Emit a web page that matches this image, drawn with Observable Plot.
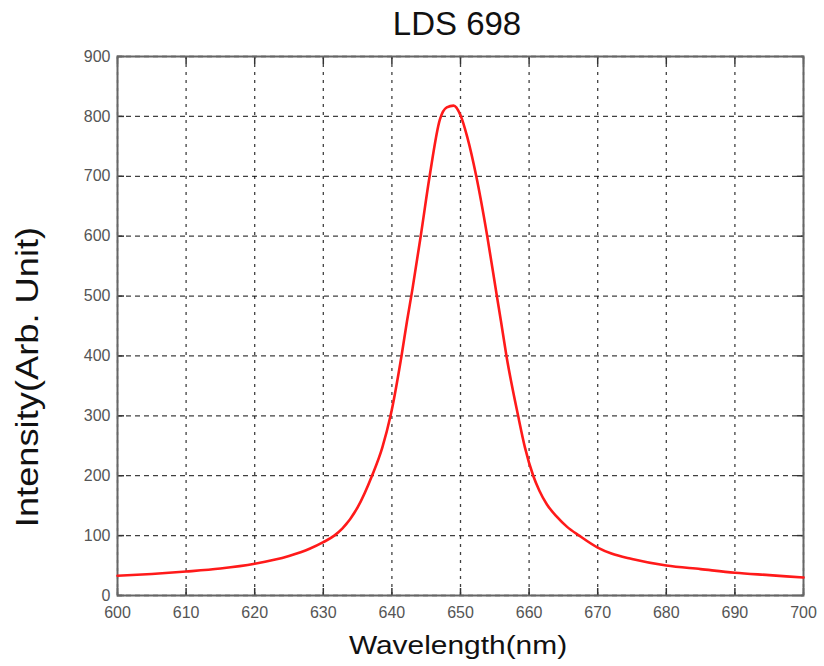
<!DOCTYPE html>
<html>
<head>
<meta charset="utf-8">
<script src="https://cdn.jsdelivr.net/npm/d3@7"></script>
<script src="https://cdn.jsdelivr.net/npm/@observablehq/plot@0.6"></script>
<style>
  html, body { margin: 0; padding: 0; background: #fff; }
  #wrap { position: relative; width: 824px; height: 666px; font-family: "Liberation Sans", Arial, sans-serif; color: #111; }
  #title { position: absolute; left: 257px; top: 2px; width: 400px; height: 44px; text-align: center;
           font-size: 33px; line-height: 44px; }
  #chart { position: absolute; left: 0; top: 44px; }
  #ylabel { position: absolute; left: -172px; top: 357px; width: 400px; height: 40px; line-height: 40px;
            text-align: center; font-size: 31px; transform: rotate(-90deg) scaleX(1.17); transform-origin: 50% 50%; }
  #xlabel { position: absolute; left: 258px; top: 628px; width: 400px; height: 34px; line-height: 34px;
            text-align: center; font-size: 26px; transform: scaleX(1.15); transform-origin: 50% 50%; }
</style>
</head>
<body>
<div id="wrap">
  <div id="chart"></div>
  <div id="title"></div>
  <div id="ylabel"></div>
  <div id="xlabel"></div>
</div>
<script>
const wavelength = [600, 605, 610, 615, 620, 625, 628, 630, 631.6, 632.8, 635, 637.1, 638.6, 639.8, 641.4, 642.2, 643, 644.2, 645.5, 647, 648, 649, 650, 651, 652.3, 653.9, 655.3, 655.9, 656.7, 658.4, 659.4, 660.6, 661.5, 662.6, 664, 665.5, 667.3, 670, 672, 675, 680, 685, 690, 695, 700];
const intensity  = [33, 36, 40, 45, 53, 66, 78, 89, 100, 112, 147, 200, 247, 300, 400, 458, 512, 600, 700, 795, 815, 818, 802, 765, 700, 600, 500, 458, 400, 300, 247, 200, 175, 152, 132, 115, 100, 80, 70, 61, 50, 44, 38, 34, 30];
const xTicks = [600, 610, 620, 630, 640, 650, 660, 670, 680, 690, 700];
const yTicks = [0, 100, 200, 300, 400, 500, 600, 700, 800, 900];
const titleText = "LDS 698";
const xLabel = "Wavelength(nm)";
const yLabel = "Intensity(Arb. Unit)";

document.getElementById("title").textContent = titleText;
document.getElementById("xlabel").textContent = xLabel;
document.getElementById("ylabel").textContent = yLabel;

const data = wavelength.map((w, i) => ({w, v: intensity[i]}));

const tickFont = {fontFamily: "Liberation Sans, Arial, sans-serif", fontSize: 16, fill: "#555"};

const plot = Plot.plot({
  width: 824,
  height: 622,
  marginTop: 12,
  marginBottom: 71,
  marginLeft: 117,
  marginRight: 21,
  style: {fontFamily: "Liberation Sans, Arial, sans-serif", background: "white", overflow: "visible"},
  x: {domain: [600, 700]},
  y: {domain: [0, 900]},
  marks: [
    Plot.gridX(xTicks, {stroke: "#000", strokeOpacity: 0.75, strokeDasharray: "3,5", strokeWidth: 1.3}),
    Plot.gridY(yTicks, {stroke: "#000", strokeOpacity: 0.75, strokeDasharray: "5,4", strokeWidth: 1.3}),
    Plot.axisX(xTicks, {anchor: "bottom", tickSize: -7, tickPadding: 18, stroke: "#333", strokeWidth: 1.5, label: null, tickFormat: d3.format("d"), ...tickFont}),
    Plot.axisX(xTicks, {anchor: "top", tickSize: -7, text: null, stroke: "#333", strokeWidth: 1.5, label: null}),
    Plot.axisY(yTicks, {anchor: "left", tickSize: -7, tickPadding: 14, stroke: "#333", strokeWidth: 1.5, label: null, tickFormat: d3.format("d"), ...tickFont}),
    Plot.axisY(yTicks, {anchor: "right", tickSize: -7, text: null, stroke: "#333", strokeWidth: 1.5, label: null}),
    Plot.frame({stroke: "#666", strokeWidth: 2}),
    Plot.line(data, {x: "w", y: "v", stroke: "#ff1a1a", strokeWidth: 2.6, curve: "monotone-x"})
  ]
});
document.getElementById("chart").appendChild(plot);
</script>
</body>
</html>
